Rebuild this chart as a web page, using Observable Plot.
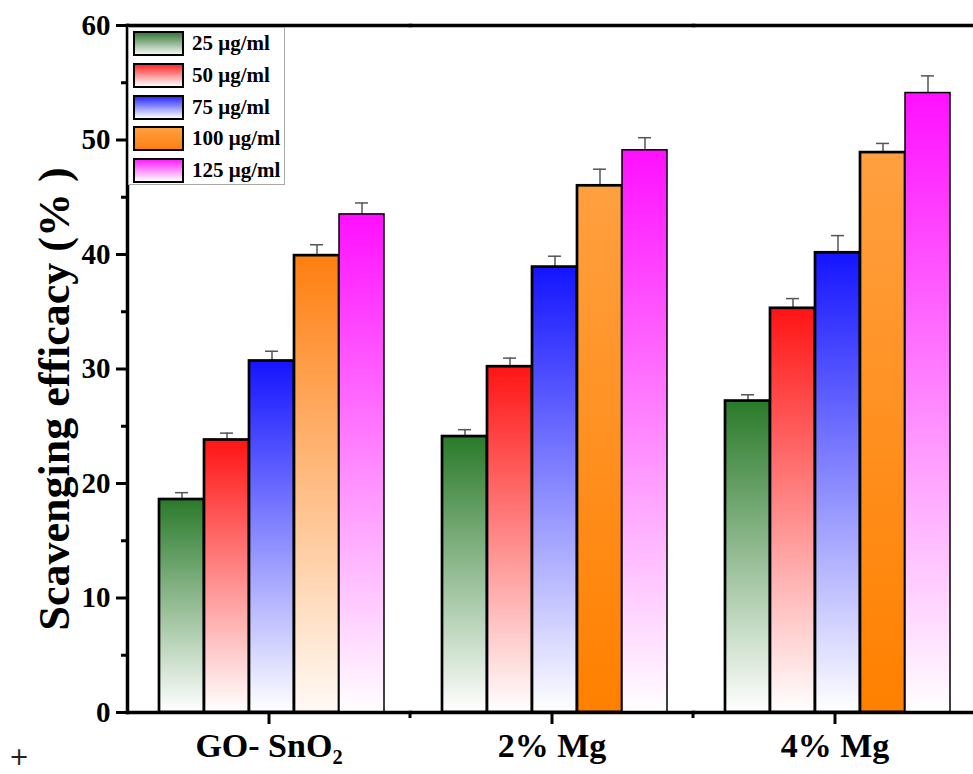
<!DOCTYPE html>
<html><head><meta charset="utf-8">
<script src="https://cdn.jsdelivr.net/npm/d3@7"></script>
<script src="https://cdn.jsdelivr.net/npm/@observablehq/plot@0.6"></script>
<style>
html,body{margin:0;padding:0;background:#fff;overflow:hidden;}
#wrap{position:relative;width:973px;height:774px;overflow:hidden;}
#legend{position:absolute;left:128px;top:27px;width:155px;height:156px;border:1px solid #aaa;background:#fff;font-family:"Liberation Serif","Times New Roman",serif;font-weight:bold;font-size:21px;color:#000;}
.row{position:absolute;left:4px;height:25px;display:flex;align-items:center;}
.sw{width:51px;height:25px;box-sizing:border-box;border:2px solid #000;}
.lab{margin-left:8px;white-space:nowrap;}
#plus{position:absolute;left:9px;top:743px;font:24px "DejaVu Sans";color:#222;}
</style></head><body><div id="wrap"><div id="chart"></div><div id="legend"></div><div id="plus">+</div></div>
<script>
const groups = ["GO- SnO₂", "2% Mg", "4% Mg"];
const series = ["25 μg/ml", "50 μg/ml", "75 μg/ml", "100 μg/ml", "125 μg/ml"];
const valuesGO = [18.6, 23.8, 30.7, 39.9, 43.5];
const values2Mg = [24.1, 30.2, 38.9, 46.0, 49.1];
const values4Mg = [27.2, 35.3, 40.15, 48.9, 54.1];
const errorsGO = [0.6, 0.6, 0.85, 0.95, 1.0];
const errors2Mg = [0.6, 0.75, 0.95, 1.45, 1.1];
const errors4Mg = [0.55, 0.85, 1.5, 0.8, 1.5];
const yTicks = [0, 10, 20, 30, 40, 50, 60];
const yMinorTicks = [5, 15, 25, 35, 45, 55];
const yLabel = "Scavenging efficacy (% )";
const gradTop = ["#2a7a2a", "#ff1414", "#1414ff", "#ff7f10", "#ff10ff"];
const gradBottom = ["#ffffff", "#ffffff", "#ffffff", "#fffaf6", "#ffffff"];
const orangeAltTop = "#ffa040", orangeAltBottom = "#ff8000";
const legendTop = ["#3a7a3a", "#ff2a2a", "#2a2aff", "#ffa040", "#ff20ff"];
const legendBottom = ["#f2f6f2", "#ffffff", "#ffffff", "#ff8010", "#ffffff"];

const vals = [valuesGO, values2Mg, values4Mg];
const errs = [errorsGO, errors2Mg, errors4Mg];
const rows = groups.flatMap((g, gi) => series.map((s, si) => ({
  group: g, series: s, value: vals[gi][si], err: errs[gi][si],
  fill: (si === 3 && gi > 0) ? "url(#grad-3b)" : `url(#grad-${si})`
})));

const plot = Plot.plot({
  width: 984, height: 774,
  marginLeft: 127, marginRight: 8, marginTop: 25, marginBottom: 62,
  style: {fontFamily: "'Liberation Serif', 'Times New Roman', serif", fontWeight: "bold", color: "#000", background: "transparent", maxWidth: "none", overflow: "visible"},
  fx: {domain: groups, paddingInner: 0, paddingOuter: 0, label: null},
  x: {domain: series, paddingInner: 0, paddingOuter: 0.625, align: 0.55, axis: null},
  y: {domain: [0, 60], axis: null},
  color: {type: "identity"},
  marks: [
    Plot.ruleX(rows, {fx: "group", x: "series", y1: "value", y2: d => d.value + d.err, stroke: "#555", strokeWidth: 1.5}),
    Plot.tickY(rows, {fx: "group", x: "series", y: d => d.value + d.err, stroke: "#555", strokeWidth: 1.5, insetLeft: 16, insetRight: 16}),
    Plot.barY(rows, {fx: "group", x: "series", y: "value", fill: "fill", stroke: "#000", strokeWidth: d => d.series === series[4] ? 1.5 : 2.7}),
    Plot.frame({anchor: "top", strokeWidth: 3.5}),
    Plot.frame({anchor: "bottom", strokeWidth: 3.5}),
    Plot.frame({anchor: "left", strokeWidth: 3.5, fx: groups[0]}),
    Plot.axisY({ticks: yTicks, tickSize: 11, tickPadding: 6, fontSize: 29, strokeWidth: 3, label: null}),
    Plot.axisY({ticks: yMinorTicks, tickSize: 6, tickFormat: () => "", strokeWidth: 3, label: null}),
    Plot.axisFx({anchor: "bottom", tickSize: 12, tickPadding: 8, fontSize: 34, strokeWidth: 3, label: null}),
    Plot.text([yLabel], {fx: () => groups[0], text: d => d, frameAnchor: "left", textAnchor: "middle", rotate: -90, dx: -73, dy: 30, fontSize: 44, fontWeight: "bold", fill: "#000"})
  ]
});

const svg = plot.tagName.toLowerCase() === "svg" ? plot : plot.querySelector("svg");
const defs = d3.select(svg).insert("defs", ":first-child");
function grad(id, top, bottom) {
  const g = defs.append("linearGradient").attr("id", id).attr("x1", 0).attr("y1", 0).attr("x2", 0).attr("y2", 1);
  g.append("stop").attr("offset", "0%").attr("stop-color", top);
  g.append("stop").attr("offset", "100%").attr("stop-color", bottom);
}
series.forEach((s, i) => grad(`grad-${i}`, gradTop[i], gradBottom[i]));
grad("grad-3b", orangeAltTop, orangeAltBottom);

// minor x ticks at group boundaries, from Plot's fx and y scales
const fxS = plot.scale("fx"), yS = plot.scale("y");
const y0 = yS.apply(0);
groups.slice(1).forEach(g => {
  const xb = fxS.apply(g);
  d3.select(svg).append("line").attr("x1", xb).attr("x2", xb).attr("y1", y0).attr("y2", y0 + 6).attr("stroke", "#000").attr("stroke-width", 3);
});

document.getElementById("chart").appendChild(plot);

// legend
const leg = document.getElementById("legend");
series.forEach((s, i) => {
  const r = document.createElement("div");
  r.className = "row";
  r.style.top = (3 + i * 31.8) + "px";
  const sw = document.createElement("div");
  sw.className = "sw";
  sw.style.background = `linear-gradient(to bottom, ${legendTop[i]}, ${legendBottom[i]})`;
  const lab = document.createElement("span");
  lab.className = "lab";
  lab.textContent = s;
  r.appendChild(sw); r.appendChild(lab);
  leg.appendChild(r);
});
</script></body></html>
